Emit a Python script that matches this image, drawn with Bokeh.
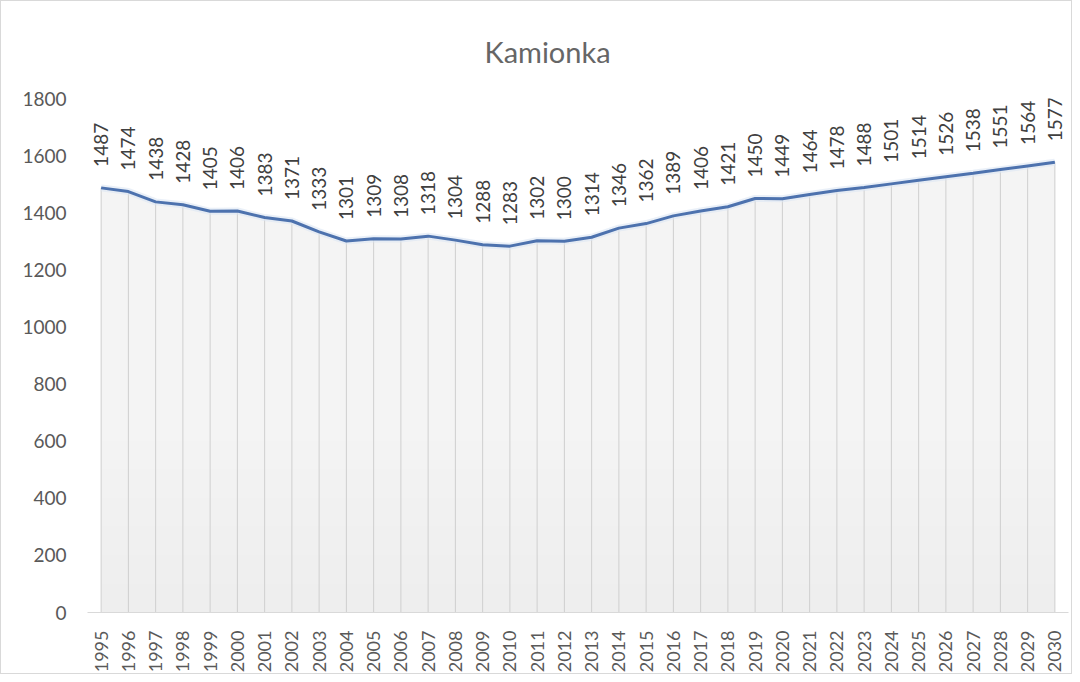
import math
from bokeh.plotting import figure
from bokeh.models import FixedTicker, Title, ColumnDataSource
from bokeh.core.properties import value
from bokeh.embed import file_html
from bokeh.resources import INLINE

years = list(range(1995, 2031))
population = [1487, 1474, 1438, 1428, 1405, 1406, 1383, 1371, 1333, 1301,
              1309, 1308, 1318, 1304, 1288, 1283, 1302, 1300, 1314, 1346,
              1362, 1389, 1406, 1421, 1450, 1449, 1464, 1478, 1488, 1501,
              1514, 1526, 1538, 1551, 1564, 1577]
y_ticks = [0, 200, 400, 600, 800, 1000, 1200, 1400, 1600, 1800]
title_text = "Kamionka"

FONT = "Lato"

src = ColumnDataSource(dict(x=years, y=population, lbl=[str(v) for v in population],
                            zero=[0] * len(years)))

p = figure(width=1072, height=674, x_range=(1994.5, 2030.5), y_range=(0, 1800),
           output_backend="svg", toolbar_location=None,
           min_border_left=86, min_border_right=5, min_border_top=97, min_border_bottom=63)
p.title = None
p.add_layout(Title(text=title_text, align="left", offset=397, text_font=FONT,
                   text_font_size="29px", text_color="#666666", text_font_style="normal",
                   standoff=58, vertical_align="middle"), "above")
p.styles = {"border": "1px solid #d9d9d9"}
p.outline_line_color = None
p.xgrid.grid_line_color = None
p.ygrid.grid_line_color = None

# gradient-like shaded area under the line
p.varea(x="x", y1="zero", y2="y", source=src, fill_color="#eeeeee", fill_alpha=1.0)
for lvl in range(100, 1300, 100):
    p.varea(x=years, y1=[lvl] * len(years), y2=population, fill_color="white", fill_alpha=0.08)

# drop lines
p.segment(x0="x", y0="zero", x1="x", y1="y", source=src, line_color="#cfcfcf", line_width=1)

p.line(x="x", y="y", source=src, line_color="#dce6f4", line_width=7, line_alpha=0.6)
p.line(x="x", y="y", source=src, line_color="#4d72ae", line_width=3)

p.text(x="x", y="y", text="lbl", source=src, angle=math.pi / 2, text_align="left",
       text_baseline="middle", y_offset=-21, text_font=value(FONT), text_font_size="19px",
       text_color="#404040")

p.xaxis.ticker = FixedTicker(ticks=years)
p.xaxis.major_label_orientation = math.pi / 2
p.xaxis.major_tick_line_color = None
p.xaxis.minor_tick_line_color = None
p.xaxis.axis_line_color = "#d9d9d9"
p.xaxis.major_label_standoff = 12
p.xaxis.major_label_text_font = FONT
p.xaxis.major_label_text_font_size = "18px"
p.xaxis.major_label_text_color = "#595959"

p.yaxis.ticker = FixedTicker(ticks=y_ticks)
p.yaxis.major_tick_line_color = None
p.yaxis.minor_tick_line_color = None
p.yaxis.axis_line_color = None
p.yaxis.major_label_standoff = 15
p.yaxis.major_label_text_font = FONT
p.yaxis.major_label_text_font_size = "19px"
p.yaxis.major_label_text_color = "#595959"

open("out.html", "w").write(file_html(p, INLINE))
